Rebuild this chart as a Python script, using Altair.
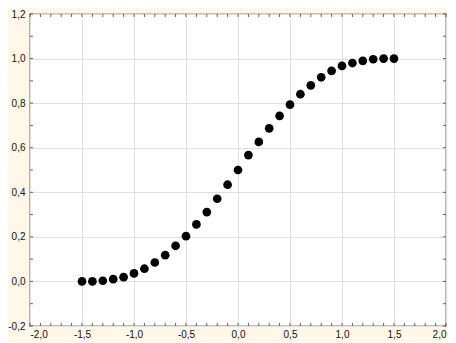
import altair as alt
import pandas as pd

x_vals = [-1.5, -1.4, -1.3, -1.2, -1.1, -1.0, -0.9, -0.8, -0.7, -0.6, -0.5,
          -0.4, -0.3, -0.2, -0.1, 0.0, 0.1, 0.2, 0.3, 0.4, 0.5, 0.6, 0.7,
          0.8, 0.9, 1.0, 1.1, 1.2, 1.3, 1.4, 1.5]
y_vals = [0.0, 0.0, 0.003, 0.01, 0.019, 0.036, 0.057, 0.085, 0.118, 0.16, 0.203,
          0.256, 0.311, 0.371, 0.434, 0.5, 0.567, 0.626, 0.687, 0.743, 0.793,
          0.84, 0.88, 0.916, 0.945, 0.967, 0.98, 0.99, 0.997, 1.0, 1.0]

x_major = [-2.0, -1.5, -1.0, -0.5, 0.0, 0.5, 1.0, 1.5, 2.0]
y_major = [-0.2, 0.0, 0.2, 0.4, 0.6, 0.8, 1.0, 1.2]
x_minor = [-2.0, -1.9, -1.8, -1.7, -1.6, -1.5, -1.4, -1.3, -1.2, -1.1, -1.0,
           -0.9, -0.8, -0.7, -0.6, -0.5, -0.4, -0.3, -0.2, -0.1, 0.0, 0.1,
           0.2, 0.3, 0.4, 0.5, 0.6, 0.7, 0.8, 0.9, 1.0, 1.1, 1.2, 1.3, 1.4,
           1.5, 1.6, 1.7, 1.8, 1.9, 2.0]
y_minor = [-0.2, -0.1, 0.0, 0.1, 0.2, 0.3, 0.4, 0.5, 0.6, 0.7, 0.8, 0.9,
           1.0, 1.1, 1.2]

W, H = 416, 312

df = pd.DataFrame({"x": x_vals, "y": y_vals})
xt = pd.DataFrame({"x": x_minor})
yt = pd.DataFrame({"y": y_minor})

lab = "replace(replace(format(datum.value, '.1f'), '.', ','), '\u2212', '-')"

xscale = alt.Scale(domain=[-2.0, 2.0], nice=False, zero=False)
yscale = alt.Scale(domain=[-0.2, 1.2], nice=False, zero=False)
xaxis = alt.Axis(values=x_major, labelExpr=lab, labelPadding=3)
yaxis = alt.Axis(values=y_major, labelExpr=lab, labelPadding=5)

X = alt.X("x:Q", scale=xscale, title=None, axis=xaxis)
Y = alt.Y("y:Q", scale=yscale, title=None, axis=yaxis)

points = alt.Chart(df).mark_circle(size=76, color="black", opacity=1).encode(x=X, y=Y)

tick_style = dict(color="#222222", size=3, thickness=1)
tick_bottom = alt.Chart(xt).mark_tick(**tick_style).encode(x=X, y=alt.value(H - 1.5))
tick_top = alt.Chart(xt).mark_tick(**tick_style).encode(x=X, y=alt.value(1.5))
tick_left = alt.Chart(yt).mark_tick(orient="horizontal", **tick_style).encode(y=Y, x=alt.value(1.5))
tick_right = alt.Chart(yt).mark_tick(orient="horizontal", **tick_style).encode(y=Y, x=alt.value(W - 1.5))

chart = alt.layer(points, tick_bottom, tick_top, tick_left, tick_right).properties(
    width=W, height=H,
    autosize=alt.AutoSizeParams(type="none"),
    padding={"left": 22, "top": 6, "right": 2, "bottom": 16},
    background="#FFF8E9",
).configure_view(
    fill="white", stroke="#111111", strokeWidth=1.2
).configure_axis(
    domain=False, ticks=False, grid=True, gridColor="#E0E0E0", gridWidth=1,
    labelFont="Liberation Sans", labelFontSize=10, labelColor="#111111",
)

chart.save("out.html", embed_options={"renderer": "svg", "actions": False})
